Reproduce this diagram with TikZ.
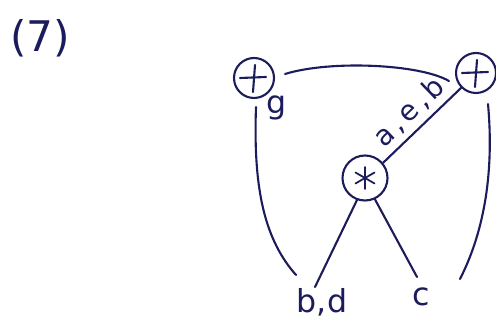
\documentclass[tikz,border=0pt]{standalone}
\usepackage{fontspec}
\setmainfont{DejaVu Sans}
\newfontfamily\spacedfont[LetterSpace=14]{DejaVu Sans}
\definecolor{ink}{HTML}{1C1C5C}
\begin{document}
\begin{tikzpicture}[x=0.02cm,y=-0.02cm,
  ink line/.style={draw=ink,line width=1.2pt,line cap=round},
  opnode/.style={circle,draw=ink,line width=1.2pt,minimum size=0.8cm,inner sep=0pt},
  bigop/.style={circle,draw=ink,line width=1.2pt,minimum size=0.9cm,inner sep=0pt},
  lbl/.style={text=ink,inner sep=0pt,font=\fontsize{18}{20}\selectfont}]
\useasboundingbox (0,0) rectangle (496,323);
\node[text=ink,font=\fontsize{24}{26}\selectfont] (title) at (40,38) {(7)};
\node[opnode] (pl) at (254,78) {};
\node[opnode] (pr) at (476,73) {};
\node[bigop] (st) at (365,178) {};
% plus signs
\foreach \n in {pl,pr}{
  \draw[ink line] ([shift={(-14,0)}]\n.center) -- ([shift={(12,-1)}]\n.center);
  \draw[ink line] ([shift={(1,-13)}]\n.center) -- ([shift={(-1,14)}]\n.center);
}
% asterisk
\foreach \a in {90,30,-30,150,210,-90}
  \draw[ink line,line width=1pt] (st.center) -- ++(\a:11);
\node[lbl] (g) at (277,108) {g};
\node[lbl] (bd) at (322,302) {b,d};
\node[lbl] (c) at (421,297) {c};
\coordinate (lend) at (296,275);
\coordinate (rend) at (460,279);
\coordinate (bdtop) at (315,287);
\coordinate (ctop) at (417,277);
% connectors
\draw[ink line] ([shift={(10,-4)}]pl.east) .. controls (330,60) and (420,64) .. ([shift={(-6,8)}]pr.west);
\draw[ink line] (st.40) -- node[sloped,above=3pt,lbl,font=\spacedfont\fontsize{16}{18}\selectfont] {a,e,b} (pr.225);
\draw[ink line] (st.250) -- (bdtop);
\draw[ink line] (st.295) -- (ctop);
\draw[ink line] ([shift={(2,8)}]pl.south) .. controls (253,190) and (265,240) .. (lend);
\draw[ink line] ([shift={(12,10)}]pr.south) .. controls (494,170) and (485,230) .. (rend);
\end{tikzpicture}
\end{document}
